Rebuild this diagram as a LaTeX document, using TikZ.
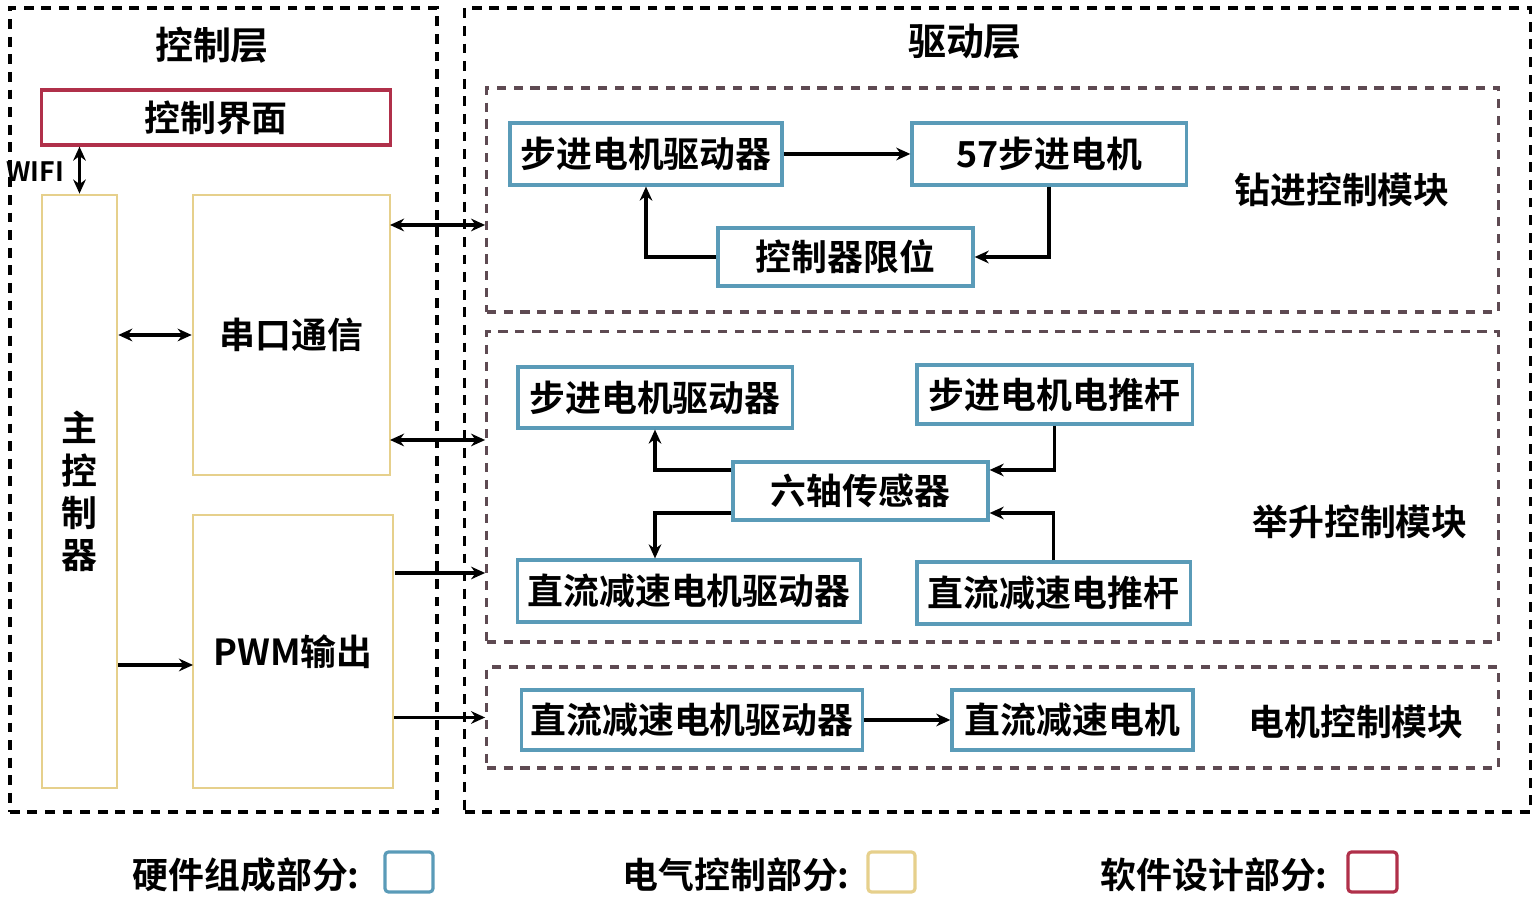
\documentclass[tikz,border=0pt]{standalone}
\usepackage{fontspec}
\setmainfont{Noto Sans CJK SC}[BoldFont={Noto Sans CJK SC Bold}]
\usepackage{xcolor}
\usepackage{tikz}
\usetikzlibrary{arrows.meta}

\definecolor{hwblue}{HTML}{5A9BB8}
\definecolor{elyellow}{HTML}{E6D08C}
\definecolor{swred}{HTML}{B0304A}
\definecolor{moddash}{HTML}{5E4A52}

\begin{document}
\begin{tikzpicture}[x=0.01cm, y=-0.01cm, >={Stealth[length=4pt,width=3.6pt]},
    txt/.style={font=\bfseries\fontsize{10.2}{12}\selectfont},
    layer/.style={draw, line width=1pt, dash pattern=on 2.8pt off 2.2pt},
    module/.style={draw=moddash, line width=0.9pt, dash pattern=on 2.6pt off 2.2pt},
    hw/.style={draw=hwblue, line width=0.9pt, fill=white, inner sep=0pt, txt},
    el/.style={draw=elyellow, line width=0.7pt, inner sep=0pt, txt},
    sw/.style={draw=swred, line width=0.9pt, inner sep=0pt, txt},
    conn/.style={->, line width=1.1pt},
    dconn/.style={<->, line width=1.1pt}]
    \useasboundingbox (0,0) rectangle (1535,901);

    % === LAYERS ===
    \node[layer, minimum width=4.27cm, minimum height=8.04cm] (ctrl) at (223.5,410) {};
    \node[layer, minimum width=10.65cm, minimum height=8.04cm] (drive) at (997.5,410) {};
    \node[txt, font=\bfseries\fontsize{10.8}{12}\selectfont] (ctrltitle) at (212,45) {控制层};
    \node[txt, font=\bfseries\fontsize{10.8}{12}\selectfont] (drvtitle) at (965,42) {驱动层};

    % === CONTROL LAYER ===
    \node[sw, minimum width=3.48cm, minimum height=0.55cm] (ui) at (216,117.5) {控制界面};
    \node[el, minimum width=0.75cm, minimum height=5.93cm, align=center] (mcu) at (79.5,491.5) {主\\控\\制\\器};
    \node[el, minimum width=1.97cm, minimum height=2.80cm] (serial) at (291.5,335) {串口通信};
    \node[el, minimum width=2.0cm, minimum height=2.73cm] (pwm) at (293,651.5) {PWM输出};

    \draw[dconn] (mcu.north |- ui.south) -- (mcu.north);
    \node[font=\bfseries\fontsize{7.6}{9}\selectfont] (wifi) at (35,172) {WIFI};
    \draw[dconn] (mcu.east |- serial.west) -- (serial.west);
    \coordinate (pwmin) at (193,665);
    \draw[conn] (mcu.east |- pwmin) -- (pwmin);

    % === DRIVE LAYER: modules ===
    \node[module, minimum width=10.11cm, minimum height=2.24cm] (drill) at (992.5,200) {};
    \node[module, minimum width=10.11cm, minimum height=3.10cm] (lift) at (992.5,487) {};
    \node[module, minimum width=10.11cm, minimum height=1.01cm] (motor) at (992.5,717.5) {};
    \node[txt] (drilllbl) at (1342,190) {钻进控制模块};
    \node[txt] (liftlbl) at (1360,522) {举升控制模块};
    \node[txt] (motorlbl) at (1356,722) {电机控制模块};

    % Drilling module
    \node[hw, minimum width=2.72cm, minimum height=0.62cm] (d_drv) at (646,154) {步进电机驱动器};
    \node[hw, minimum width=2.74cm, minimum height=0.62cm] (d_mot) at (1049,154) {57步进电机};
    \node[hw, minimum width=2.55cm, minimum height=0.58cm] (d_lim) at (845.5,257) {控制器限位};
    \draw[conn] (d_drv.east) -- (d_mot.west);
    \draw[conn] (d_mot.south) |- (d_lim.east);
    \draw[conn] (d_lim.west) -| (d_drv.south);

    % Lifting module
    \node[hw, minimum width=2.74cm, minimum height=0.61cm] (l_sdrv) at (655,397.5) {步进电机驱动器};
    \node[hw, minimum width=2.75cm, minimum height=0.59cm] (l_spush) at (1054.5,394.5) {步进电机电推杆};
    \node[hw, minimum width=2.55cm, minimum height=0.58cm] (l_imu) at (860.5,491) {六轴传感器};
    \node[hw, minimum width=3.42cm, minimum height=0.62cm] (l_ddrv) at (689,591) {直流减速电机驱动器};
    \node[hw, minimum width=2.73cm, minimum height=0.62cm] (l_dpush) at (1053.5,593) {直流减速电推杆};
    \draw[conn] ([yshift=0.21cm]l_imu.west) -| (l_sdrv.south);
    \draw[conn] ([yshift=-0.22cm]l_imu.west) -| (l_sdrv.south |- l_ddrv.north);
    \draw[conn] (l_spush.south) |- ([yshift=0.21cm]l_imu.east);
    \draw[conn] (l_dpush.north) |- ([yshift=-0.22cm]l_imu.east);

    % Motor module
    \node[hw, minimum width=3.40cm, minimum height=0.60cm] (m_drv) at (692,720) {直流减速电机驱动器};
    \node[hw, minimum width=2.41cm, minimum height=0.60cm] (m_mot) at (1072.5,720) {直流减速电机};
    \draw[conn] (m_drv.east) -- (m_mot.west);

    % === LAYER LINKS ===
    \coordinate (s1) at (390,225);
    \coordinate (s2) at (390,440);
    \coordinate (p1) at (395,573);
    \draw[dconn] (s1) -- (drill.west |- s1);
    \draw[dconn] (s2) -- (lift.west |- s2);
    \draw[conn] (p1) -- (lift.west |- p1);
    \draw[conn] (pwm.east |- motor.west) -- (motor.west);

    % === LEGEND ===
    \node[txt, anchor=east] (lg_hw) at (372,875) {硬件组成部分:};
    \node[draw=hwblue, line width=0.9pt, rounded corners=1pt, minimum width=0.48cm, minimum height=0.40cm] (bx_hw) at (409,872) {};
    \node[txt, anchor=east] (lg_el) at (862,875) {电气控制部分:};
    \node[draw=elyellow, line width=0.9pt, rounded corners=1pt, minimum width=0.47cm, minimum height=0.40cm] (bx_el) at (891.5,872) {};
    \node[txt, anchor=east] (lg_sw) at (1340,875) {软件设计部分:};
    \node[draw=swred, line width=0.9pt, rounded corners=1pt, minimum width=0.49cm, minimum height=0.40cm] (bx_sw) at (1372.5,872) {};
\end{tikzpicture}
\end{document}
